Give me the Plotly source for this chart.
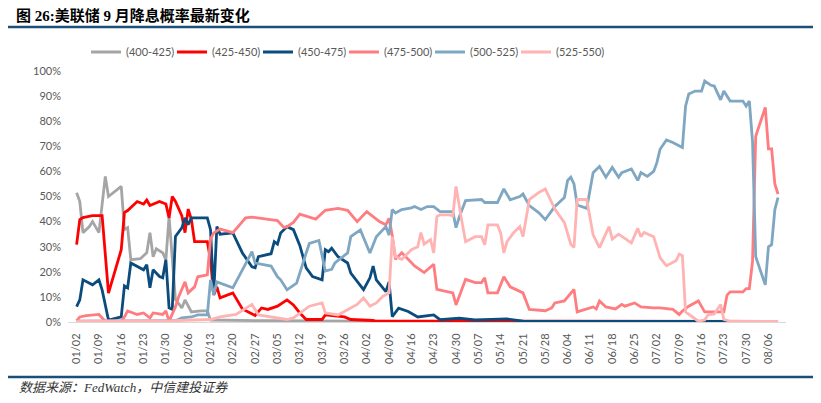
import pandas as pd
import plotly.graph_objects as go

START = "2024-01-02"

# Day offsets from 2024-01-02 and probabilities (%) for each target range
g_days = [0, 1, 2, 4, 5, 7, 9, 10, 14, 15, 16, 17, 20, 22, 23, 24, 25, 27, 28, 29, 31, 33, 34, 36, 39, 41, 42, 60, 100, 150, 220]
g_vals = [51.5, 48, 35.6, 38, 40, 35.6, 58, 50, 54, 36.8, 37.6, 24.8, 25.2, 27.6, 35.6, 26, 29.2, 27.6, 24.8, 42, 9, 5.6, 8.8, 4, 4.4, 4.4, 0.8, 0.5, 0.2, 0.1, 0.1]

r_days = [0, 1, 2, 5, 8, 10, 14, 15, 16, 19, 21, 22, 23, 26, 28, 29, 30, 31, 33, 34, 35, 36, 37, 41, 42, 43, 44, 45, 49, 52, 56, 58, 60, 63, 66, 68, 70, 72, 77, 78, 84, 86, 93, 94, 150, 220]
r_vals = [30.8, 40.8, 41.6, 42.4, 42.4, 11.5, 28.8, 43.6, 44.4, 48, 47, 48.6, 46.4, 48, 47, 41.5, 50, 48, 42.4, 35.6, 45, 40.8, 32, 32, 24.8, 10.8, 14, 9.6, 11.6, 5.2, 2.6, 5.6, 5, 6.3, 8.8, 6.8, 3.6, 1, 1, 2.8, 2, 1, 0.6, 0.3, 0.3, 0.2]

b_days = [0, 1, 2, 5, 7, 8, 10, 14, 15, 16, 17, 20, 21, 22, 23, 24, 26, 27, 28, 29, 30, 31, 33, 34, 35, 36, 41, 42, 43, 44, 45, 49, 52, 55, 56, 57, 61, 62, 63, 64, 66, 68, 70, 72, 74, 77, 78, 79, 80, 82, 85, 86, 90, 92, 93, 94, 97, 98, 99, 101, 104, 107, 112, 114, 120, 125, 135, 140, 220]
b_vals = [6.1, 8.8, 16.8, 14.8, 16.8, 12.8, 0.8, 2, 14.4, 13.6, 23.5, 21.6, 20.8, 22.8, 13.6, 20.8, 18.1, 17.6, 24.8, 5.6, 5, 34.1, 37.5, 41.5, 38.8, 41.5, 41.5, 36.8, 11, 38, 35, 35.5, 27.5, 22, 21.6, 26, 27.2, 32, 31, 35.5, 38, 36.8, 30.5, 21.6, 18.1, 16.8, 28.8, 28, 29.4, 26, 23.5, 19.5, 12.9, 17.6, 22.3, 16.8, 12.1, 16, 2.1, 5.5, 4.2, 2, 2.8, 0.9, 1.5, 0.8, 1.2, 0.3, 0.2]

s_days = [0, 1, 3, 7, 9, 14, 15, 16, 19, 21, 23, 24, 27, 28, 29, 31, 32, 34, 35, 37, 38, 41, 42, 43, 45, 49, 52, 53, 55, 60, 63, 65, 66, 68, 70, 75, 78, 82, 85, 88, 91, 93, 95, 97, 98, 99, 100, 102, 106, 109, 112, 113, 116, 118, 119, 122, 125, 127, 128, 129, 132, 134, 136, 140, 142, 147, 149, 150, 153, 156, 157, 160, 162, 163, 164, 166, 169, 171, 172, 175, 177, 181, 183, 187, 189, 190, 192, 195, 197, 201, 203, 204, 205, 209, 210, 211, 212, 213, 216, 217, 218, 219, 220]
s_vals = [0.5, 2, 2.5, 3, 0.3, 0.3, 2, 4.4, 3, 3.6, 1.6, 3.6, 3, 4.4, 0.3, 6, 10, 16, 11.6, 14, 18, 18.8, 33, 35.5, 37, 35.6, 40, 41.5, 41.8, 41, 40.4, 37.7, 38, 39.7, 43, 41, 44.5, 45.3, 44.5, 40, 44, 42, 40, 38.7, 41.3, 34.5, 25, 27.6, 22.3, 19.7, 23, 13, 12.3, 11.6, 6.8, 17, 15.7, 15.7, 17.6, 11.6, 11.6, 18, 14, 11.6, 5, 4.5, 5.6, 7.6, 8.4, 13, 4, 5.2, 6, 5.2, 8.4, 6, 5.2, 7, 6.3, 7.6, 6, 5.6, 5.6, 5, 3, 4.4, 6.3, 8.4, 4, 4, 4, 10.7, 12, 12, 13.3, 13.3, 24, 74, 85.5, 69, 69, 55, 51]

l_days = [0, 30, 31, 33, 36, 38, 41, 42, 43, 44, 49, 52, 54, 55, 56, 61, 63, 64, 66, 69, 72, 73, 76, 77, 78, 80, 81, 85, 86, 89, 92, 94, 97, 98, 99, 100, 102, 105, 106, 108, 110, 112, 114, 117, 118, 119, 120, 122, 127, 128, 132, 134, 136, 139, 140, 142, 145, 147, 150, 153, 154, 155, 156, 157, 160, 162, 164, 166, 168, 170, 171, 174, 176, 177, 179, 181, 182, 183, 185, 187, 190, 191, 192, 194, 196, 197, 199, 200, 202, 203, 205, 209, 210, 211, 212, 213, 216, 217, 218, 219, 220]
l_vals = [0.3, 0.3, 0.5, 1.6, 2, 2.8, 2.8, 16.8, 10.8, 16, 13.6, 20.8, 26, 28, 23.5, 22.3, 18, 16.8, 12.8, 15.5, 27.5, 31.3, 32.5, 26, 20.3, 21, 23.5, 27.5, 34, 36.7, 27.5, 34, 38, 34.6, 44.8, 43.4, 44.8, 45.5, 46, 44.8, 46, 46, 44, 44, 44, 37.6, 41.7, 48.4, 48.8, 47.6, 47.6, 53, 48.7, 50, 51, 46.4, 43.5, 40.8, 46, 49.6, 56.4, 57.7, 55, 46.6, 45.3, 59.5, 62, 57.7, 61.6, 57.7, 59.5, 61, 56.4, 59.5, 58, 60, 63.5, 68.8, 72.5, 71.5, 69.5, 86, 90.8, 92, 92, 96, 94.3, 94, 88.5, 92, 88, 88, 86, 88, 72, 26, 14.8, 30, 30.8, 44.8, 49.6]

p_days = [0, 30, 42, 45, 50, 54, 55, 57, 61, 64, 66, 68, 70, 73, 77, 78, 82, 85, 88, 90, 92, 94, 96, 98, 99, 100, 102, 105, 107, 108, 109, 111, 112, 113, 114, 117, 118, 119, 120, 121, 122, 125, 127, 128, 129, 132, 133, 134, 135, 137, 139, 140, 142, 145, 147, 150, 153, 155, 156, 157, 160, 162, 164, 167, 168, 170, 174, 176, 177, 178, 181, 183, 185, 188, 189, 190, 191, 193, 195, 197, 198, 200, 202, 203, 205, 220]
p_vals = [0.3, 0.5, 1, 2, 3, 6, 7, 2.8, 2, 1.6, 1, 1.6, 3.6, 6.3, 7.6, 3.6, 2.8, 5, 7, 9.6, 6.3, 7.6, 10.2, 11.6, 34, 26, 25, 28.8, 30, 35.6, 31, 32.8, 27.5, 42, 42.7, 42.7, 42.3, 54, 46, 39, 32, 34, 34, 30.8, 38.7, 38.7, 35.5, 27.5, 32, 35.5, 38, 34, 48.8, 51.6, 53, 45, 39.6, 31, 29.7, 48.8, 48.8, 34.7, 29.6, 38, 33, 35, 31.5, 37.3, 34, 35.7, 34, 25.6, 22.4, 24.4, 27, 26.4, 4, 2, 0.3, 0.8, 2.8, 3.2, 7, 1, 0.3, 0.2]

series_names = ["(400-425)", "(425-450)", "(450-475)", "(475-500)", "(500-525)", "(525-550)"]
series_days = [g_days, r_days, b_days, s_days, l_days, p_days]
series_vals = [g_vals, r_vals, b_vals, s_vals, l_vals, p_vals]
colors = ["#A5A5A5", "#FF0000", "#0B4C7C", "#FF7C80", "#7FA7C2", "#FFB3B3"]

y_ticks = [0, 10, 20, 30, 40, 50, 60, 70, 80, 90, 100]
y_ticktext = [f"{v}%" for v in y_ticks]

start = pd.Timestamp(START)
fig = go.Figure()
for name, d, v, c in zip(series_names, series_days, series_vals, colors):
    x = [start + pd.Timedelta(days=k) for k in d]
    fig.add_trace(go.Scatter(x=x, y=v, mode="lines", name=name,
                             line=dict(color=c, width=2.8)))
# invisible spacer entry so the last legend label is not clipped
fig.add_trace(go.Scatter(x=[None], y=[None], mode="lines", name=" ",
                         line=dict(color="rgba(0,0,0,0)"), hoverinfo="skip"))

# the page body adds an 8px offset, so the figure is drawn 8px smaller
OFF = 8
W, H = 821 - OFF, 403 - OFF
L, R, T, B = 68 - OFF, 35, 71 - OFF, 81
pw, ph = W - L - R, H - T - B


def px(xp):
    return (xp - OFF - L) / pw


def py(yp):
    return (H - B - (yp - OFF)) / ph


x0 = start - pd.Timedelta(days=2.7)
x1 = start + pd.Timedelta(days=222.5)

fig.update_layout(
    width=W, height=H,
    margin=dict(l=L, r=R, t=T, b=B, autoexpand=False),
    paper_bgcolor="white", plot_bgcolor="white",
    title=dict(text="<b>图 26:美联储 9 月降息概率最新变化</b>",
               x=(16 - OFF) / W, xanchor="left", y=1 - (16 - OFF) / H, yanchor="middle",
               xref="container", yref="container",
               font=dict(family="Liberation Serif, Noto Sans CJK SC", size=15, color="#000000")),
    showlegend=True,
    legend=dict(orientation="h", x=(86 - OFF) / W, xanchor="left", y=1 - (52 - OFF) / H,
                yanchor="middle", xref="container", yref="container",
                entrywidth=41, entrywidthmode="pixels", itemwidth=30,
                font=dict(family="Lato, Liberation Sans", size=11, color="#595959"),
                bgcolor="rgba(0,0,0,0)"),
    xaxis=dict(type="date", range=[x0, x1], tick0=START, dtick=7 * 86400000,
               tickformat="%m/%d", tickangle=-90, showgrid=False, zeroline=False,
               showline=True, linecolor="#D9D9D9", linewidth=1, ticks="",
               ticklabelstandoff=6,
               tickfont=dict(family="Lato, Liberation Sans", size=11, color="#595959")),
    yaxis=dict(range=[0, 100], tickvals=y_ticks, ticktext=y_ticktext, showgrid=False,
               zeroline=False, showline=False, ticks="", ticklabelstandoff=6,
               tickfont=dict(family="Lato, Liberation Sans", size=11, color="#595959")),
    shapes=[
        dict(type="line", xref="paper", yref="paper", x0=px(8), x1=px(815), y0=py(27), y1=py(27),
             line=dict(color="#1B4F7A", width=2.5)),
        dict(type="line", xref="paper", yref="paper", x0=px(8), x1=px(815), y0=py(377), y1=py(377),
             line=dict(color="#1B4F7A", width=2.5)),
    ],
    annotations=[
        dict(text="<i>数据来源：FedWatch，中信建投证券</i>", xref="paper", yref="paper",
             x=px(17), y=py(387), xanchor="left", yanchor="middle", showarrow=False,
             font=dict(family="Liberation Serif, Noto Sans CJK SC", size=13, color="#333333")),
    ],
)

fig.write_html("out.html")
